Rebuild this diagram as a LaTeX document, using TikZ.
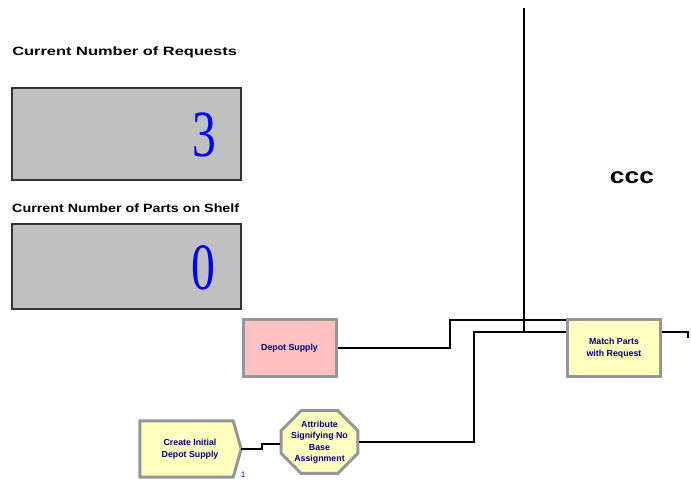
\documentclass[tikz,border=0pt]{standalone}
\usepackage{fontspec}
\setmainfont{Liberation Sans}
\newfontfamily\serifdig{Liberation Serif}
\usetikzlibrary{shapes.misc}
\definecolor{dispgray}{RGB}{192,192,192}
\definecolor{pinkfill}{RGB}{255,192,192}
\definecolor{yellowfill}{RGB}{255,255,192}
\definecolor{framegray}{RGB}{150,150,150}
\definecolor{modtext}{RGB}{0,0,128}
\definecolor{digblue}{RGB}{0,0,255}
\begin{document}
\begin{tikzpicture}[x=1pt,y=-1pt,
  title/.style={font=\bfseries\fontsize{12}{14}\selectfont, anchor=west, inner sep=0pt},
  dispbox/.style={draw=black!80, line width=1.5pt, fill=dispgray, minimum width=229pt, inner sep=0pt},
  digit/.style={font=\serifdig\fontsize{66}{70}\selectfont, text=digblue, anchor=east, inner sep=0pt, xscale=0.72},
  modtxt/.style={font=\bfseries\fontsize{8.8}{11.5}\selectfont, text=modtext, align=center},
  module/.style={draw=framegray, line width=3pt, minimum width=93pt, minimum height=57pt, modtxt},
  conn/.style={draw=black, line width=1.5pt},
]
\useasboundingbox (0,0) rectangle (691,481);

% displays
\node[title, xscale=1.37] (t1) at (12,52) {Current Number of Requests};
\node[dispbox, minimum height=92pt] (b1) at (126.5,134) {};
\node[digit] (d1) at (216,135) {3};
\node[title, xscale=1.19] (t2) at (12,208) {Current Number of Parts on Shelf};
\node[dispbox, minimum height=85pt] (b2) at (126.5,266.5) {};
\node[digit] (d2) at (215,268) {0};

\node[font=\bfseries\fontsize{22}{24}\selectfont, inner sep=0pt, xscale=1.2] (ccc) at (632,178) {ccc};

% modules
\node[module, fill=pinkfill] (dep) at (289.5,348) {Depot Supply};
\node[module, fill=yellowfill] (mat) at (614,348) {Match Parts\\with Request};
\node[minimum width=100pt, minimum height=56pt, inner sep=0pt] (cre) at (190,449) {};
\path[draw=framegray, line width=3pt, fill=yellowfill]
  (cre.north west) -- ([xshift=-7pt]cre.north east) -- ([xshift=1pt]cre.east)
  -- ([xshift=-7pt]cre.south east) -- (cre.south west) -- cycle;
\node[modtxt] at (cre.center) {Create Initial\\Depot Supply};
\node[font=\fontsize{8}{9}\selectfont, text=digblue, inner sep=0pt] (cnt) at (243,475) {1};
\node[chamfered rectangle, chamfered rectangle xsep=10pt, chamfered rectangle ysep=10pt,
  draw=framegray, line width=3pt, fill=yellowfill, minimum width=71pt, minimum height=62pt,
  inner sep=0pt, modtxt] (att) at (319.5,442) {Attribute\\Signifying No\\Base\\Assignment};

% connectors
\coordinate (top) at (524,8);
\coordinate (j1) at (450,320);
\coordinate (j2) at (474,332);
\coordinate (out) at (688,338);
\coordinate (k1) at (262,444);

\draw[conn] (dep.east) -| (j1) -- (j1 -| mat.west);
\draw[conn] (att.east) -| (j2) -- (j2 -| mat.west);
\draw[conn] (top) -- (top |- j2);
\draw[conn] (mat.east |- j2) -| (out);
\draw[conn] ([xshift=1pt]cre.east) -| (k1) -- (k1 -| att.west);
\end{tikzpicture}
\end{document}
